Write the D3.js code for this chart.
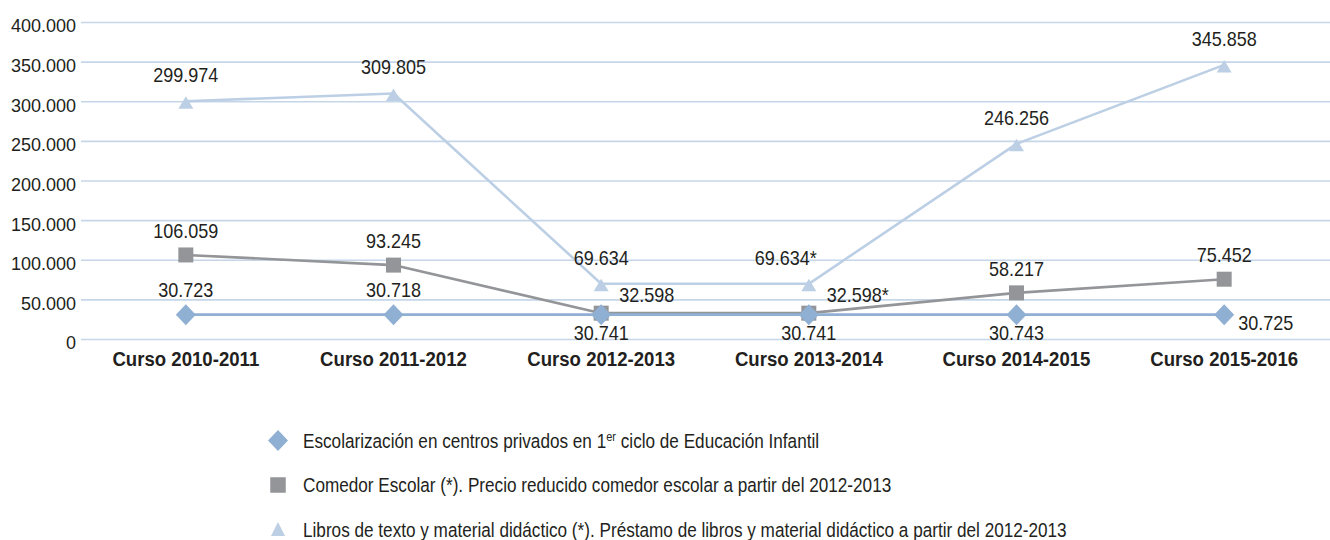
<!DOCTYPE html>
<html lang="es">
<head>
<meta charset="utf-8">
<title>Ayudas escolares por curso</title>
<script src="https://cdn.jsdelivr.net/npm/d3@7/dist/d3.min.js"></script>
<style>
  html, body { margin: 0; padding: 0; background: #ffffff; }
  svg { display: block; font-family: "Liberation Sans", Arial, Helvetica, sans-serif; }
</style>
</head>
<body>
<svg id="chart" width="1330" height="540"></svg>
<script>
// Cursos escolares
const categories = ["Curso 2010-2011", "Curso 2011-2012", "Curso 2012-2013",
                    "Curso 2013-2014", "Curso 2014-2015", "Curso 2015-2016"];

// Escolarización en centros privados en 1er ciclo de Educación Infantil
const escolarizacion = [30723, 30718, 30741, 30741, 30743, 30725];
// Comedor escolar
const comedor = [106059, 93245, 32598, 32598, 58217, 75452];
// Libros de texto y material didáctico
const libros = [299974, 309805, 69634, 69634, 246256, 345858];

// Llamadas (*) junto a algunos valores
const comedorNotes = ["", "", "", "*", "", ""];
const librosNotes = ["", "", "", "*", "", ""];

// Marcas del eje vertical
const yTicks = [0, 50000, 100000, 150000, 200000, 250000, 300000, 350000, 400000];

// Textos de la leyenda
const legendLabels = [
  ["Escolarización en centros privados en 1", "er", " ciclo de Educación Infantil"],
  ["Comedor Escolar (*). Precio reducido comedor escolar a partir del 2012-2013"],
  ["Libros de texto y material didáctico (*). Préstamo de libros y material didáctico a partir del 2012-2013"]
];

// Colocación de cada etiqueta de valor respecto a su marca
const escolarizacionPlace = ["above", "above", "below", "below", "below", "right"];
const comedorPlace = ["above", "above", "right", "right", "above", "above"];
const librosPlace = ["above", "above", "above", "aboveLeft", "above", "above"];

const TEXT = "#231f20";
const GRID = "#c6d6e9";
const BLUE = "#8fafd3";
const GREY = "#939598";
const LIGHT = "#bccfe4";

const fmt = d3.formatLocale({ decimal: ",", thousands: ".", grouping: [3], currency: ["", "€"] }).format(",");

const svg = d3.select("#chart");

const x = d3.scalePoint().domain(categories).range([82, 1328]).padding(0.5);
const y = d3.scaleLinear().domain([0, 400000]).range([339, 22]);

// Rejilla horizontal con las etiquetas del eje Y
const yAxis = svg.append("g")
  .attr("transform", "translate(81,0)")
  .call(d3.axisLeft(y).tickValues(yTicks).tickFormat(fmt)
        .tickSize(-(1330 - 81)).tickPadding(5));
yAxis.select(".domain").remove();
yAxis.selectAll(".tick line").attr("stroke", GRID).attr("stroke-width", 1.6);
yAxis.selectAll(".tick text")
  .attr("fill", TEXT).attr("font-size", 18)
  .attr("font-family", "'Liberation Sans', Arial, sans-serif")
  .attr("dy", "0.55em");

// Etiquetas de los cursos (negrita estrecha)
svg.append("g").selectAll("text")
  .data(categories)
  .join("text")
  .attr("transform", d => `translate(${x(d)},366) scale(0.886,1)`)
  .attr("text-anchor", "middle")
  .attr("font-size", 21).attr("font-weight", "bold")
  .attr("fill", TEXT)
  .text(d => d);

// Formas de los marcadores
function diamondPath(r) {
  return `M0,${-r}L${r * 0.95},0L0,${r}L${-r * 0.95},0Z`;
}
function squarePath(s) {
  const h = s / 2;
  return `M${-h},${-h}H${h}V${h}H${-h}Z`;
}
function trianglePath(w, apex, base) {
  return `M0,${-apex}L${w / 2},${base}L${-w / 2},${base}Z`;
}

const series = [
  { key: "libros", values: libros, notes: librosNotes, place: librosPlace, color: LIGHT,
    path: trianglePath(15, 5, 7.5), above: 19 },
  { key: "comedor", values: comedor, notes: comedorNotes, place: comedorPlace, color: GREY,
    path: squarePath(15), above: 17 },
  { key: "escolarizacion", values: escolarizacion, notes: null, place: escolarizacionPlace, color: BLUE,
    path: diamondPath(10.5), above: 18 }
];

const line = d3.line()
  .x((d, i) => x(categories[i]))
  .y(d => y(d));

series.forEach(s => {
  const g = svg.append("g").attr("class", s.key);
  g.append("path")
    .datum(s.values)
    .attr("fill", "none")
    .attr("stroke", s.color)
    .attr("stroke-width", 2.6)
    .attr("stroke-linejoin", "round")
    .attr("d", line);
  g.selectAll("path.marker")
    .data(s.values)
    .join("path")
    .attr("class", "marker")
    .attr("transform", (d, i) => `translate(${x(categories[i])},${y(d)})`)
    .attr("fill", s.color)
    .attr("d", s.path);
});

// Etiquetas de valor
const labelLayer = svg.append("g");
series.forEach(s => {
  s.values.forEach((v, i) => {
    const px = x(categories[i]);
    const py = y(v);
    const txt = fmt(v) + (s.notes ? s.notes[i] : "");
    let tx = px, ty = py - s.above, anchor = "middle";
    const p = s.place[i];
    if (p === "below") { ty = py + 25; }
    else if (p === "right") {
      anchor = "start";
      if (s.key === "comedor") { tx = px + 18; ty = py - 11; }
      else { tx = px + 14; ty = py + 15; }
    }
    else if (p === "aboveLeft") { anchor = "end"; tx = px + 8; }
    labelLayer.append("text")
      .attr("transform", `translate(${tx},${ty}) scale(0.9,1)`)
      .attr("text-anchor", anchor)
      .attr("font-size", 20)
      .attr("fill", TEXT)
      .text(txt);
  });
});

// Leyenda
const legendMarks = [diamondPath(10.5), squarePath(15.5), trianglePath(14, 8, 6)];
const legendColors = [BLUE, GREY, LIGHT];
const legendRowsY = [440.5, 485, 530];
const legend = svg.append("g");
legendLabels.forEach((parts, i) => {
  legend.append("path")
    .attr("transform", `translate(278,${legendRowsY[i]})`)
    .attr("fill", legendColors[i])
    .attr("d", legendMarks[i]);
  const t = legend.append("text")
    .attr("transform", `translate(303,${legendRowsY[i] + 7}) scale(0.88,1)`)
    .attr("font-size", 19.5)
    .attr("fill", TEXT);
  if (parts.length === 3) {
    t.append("tspan").text(parts[0]);
    t.append("tspan").attr("font-size", 12.5).attr("dy", -7).text(parts[1]);
    t.append("tspan").attr("dy", 7).text(parts[2]);
  } else {
    t.text(parts[0]);
  }
});
</script>
</body>
</html>
